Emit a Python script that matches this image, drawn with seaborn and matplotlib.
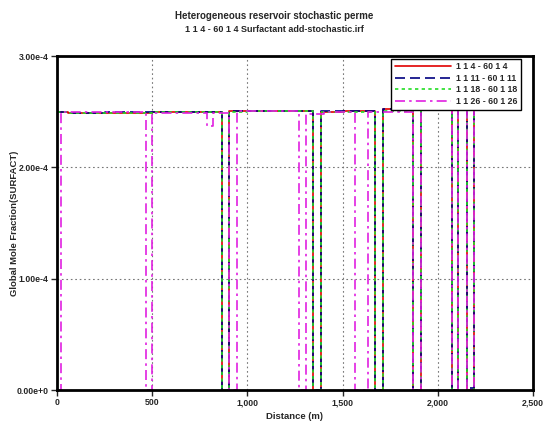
import matplotlib
matplotlib.use("Agg")
import matplotlib.pyplot as plt
import numpy as np
import seaborn as sns
from matplotlib.ticker import FuncFormatter

sns.set_style("ticks")
plt.rcParams["font.family"] = ["Liberation Sans", "DejaVu Sans"]
plt.rcParams["font.weight"] = "bold"

# step profiles along distance (m), values in units of 1e-4 mole fraction
red_x = [0, 60, 250, 500, 865, 905, 1000, 1346, 1385, 1500, 1670, 1711, 1871, 1912, 2073, 2108, 2152, 2192, 2300, 2369]
red_y = [2.50, 2.49, 2.49, 2.50, 0.00, 2.51, 2.51, 0.00, 2.50, 2.51, 0.00, 2.52, 0.00, 2.53, 0.00, 2.53, 0.00, 2.54, 2.55, 2.55]

blue_x = [0, 60, 250, 500, 865, 905, 1000, 1346, 1385, 1500, 1670, 1711, 1871, 1912, 2073, 2108, 2152, 2192, 2300, 2369]
blue_y = [2.50, 2.49, 2.50, 2.50, 0.00, 2.51, 2.51, 0.00, 2.51, 2.51, 0.00, 2.52, 0.00, 2.53, 0.00, 2.52, 0.02, 2.54, 2.54, 2.54]

green_x = [0, 60, 250, 500, 865, 905, 1000, 1346, 1385, 1500, 1670, 1711, 1871, 1912, 2073, 2108, 2152, 2192, 2300, 2369]
green_y = [2.50, 2.49, 2.49, 2.50, 0.00, 2.50, 2.51, 0.00, 2.50, 2.50, 0.00, 2.51, 0.00, 2.52, 0.00, 2.53, 0.00, 2.53, 2.54, 2.54]

mag_x = [0, 21, 466, 500, 786, 820, 905, 944, 1271, 1308, 1400, 1563, 1636, 1871, 1912, 2073, 2108, 2152, 2192, 2300, 2369]
mag_y = [0.00, 2.50, 0.00, 2.49, 2.37, 2.49, 0.00, 2.51, 0.00, 2.48, 2.50, 0.00, 2.50, 0.00, 2.53, 0.00, 2.53, 0.00, 2.54, 2.55, 2.55]

labels = ["1 1 4 - 60 1 4", "1 1 11 - 60 1 11", "1 1 18 - 60 1 18", "1 1 26 - 60 1 26"]
colors = ["#e00000", "#000080", "#22dd22", "#e020e0"]
styles = ["-", (0, (6, 3)), (0, (2, 2)), (0, (6, 2.5, 1.5, 2.5))]
series = [(red_x, red_y), (blue_x, blue_y), (green_x, green_y), (mag_x, mag_y)]

fig = plt.figure(figsize=(5.48, 4.26), dpi=100)
ax = fig.add_axes([0.104, 0.0845, 0.8686, 0.784])

for (xs, ys), lab, col, ls in zip(series, labels, colors, styles):
    sns.lineplot(x=xs, y=np.array(ys) * 1e-4, ax=ax, color=col, linestyle=ls,
                 linewidth=1.2, drawstyle="steps-post", estimator=None,
                 sort=False, label=lab)

ax.set_xlim(0, 2500)
ax.set_ylim(0, 3e-4)
ax.set_xticks([0, 500, 1000, 1500, 2000, 2500])
ax.xaxis.set_major_formatter(FuncFormatter(lambda v, p: f"{int(v):,}"))
ax.set_yticks([0, 1e-4, 2e-4, 3e-4])
ax.set_yticklabels(["0.00e+0", "1.00e-4", "2.00e-4", "3.00e-4"])
ax.tick_params(labelsize=6.3, length=4, width=1, direction="out", pad=2)
ax.grid(True, linestyle=(0, (1.5, 2.5)), color="#777777", linewidth=0.8)
for sp in ax.spines.values():
    sp.set_linewidth(2)
    sp.set_color("black")

ax.set_xlabel("Distance (m)", fontsize=6.8, fontweight="bold")
ax.xaxis.set_label_coords(0.5, -0.066)
ax.set_ylabel("Global Mole Fraction(SURFACT)", fontsize=6.8, fontweight="bold")
ax.yaxis.set_label_coords(-0.08, 0.5)

leg = ax.legend(loc="upper right", bbox_to_anchor=(0.98, 1.0), fontsize=6.3,
                handlelength=6.5, frameon=True, fancybox=False, framealpha=1,
                edgecolor="black", borderpad=0.4, labelspacing=0.3,
                handletextpad=0.5, borderaxespad=0.3)
leg.get_frame().set_linewidth(1)

fig.text(0.5, 0.962, "Heterogeneous reservoir stochastic perme", ha="center",
         va="center", fontsize=7, fontweight="bold")
fig.text(0.5, 0.93, "1 1 4 - 60 1 4 Surfactant add-stochastic.irf", ha="center",
         va="center", fontsize=6.5, fontweight="bold")

fig.savefig("out.png", dpi=100, facecolor="white")
